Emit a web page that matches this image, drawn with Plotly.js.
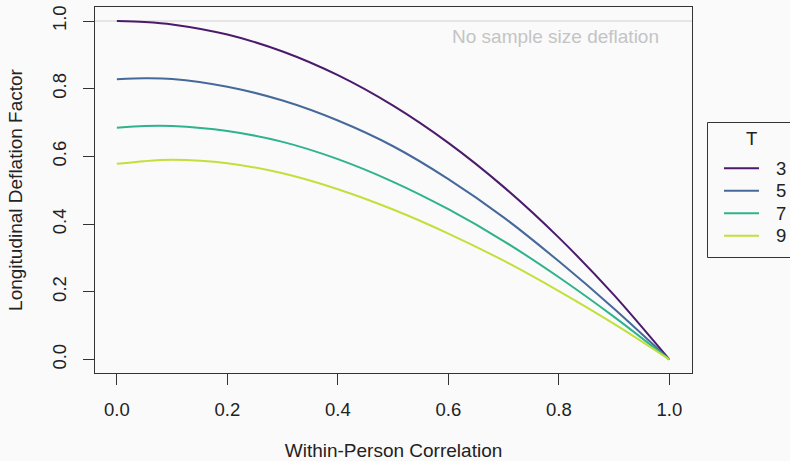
<!DOCTYPE html>
<html>
<head>
<meta charset="utf-8">
<script src="https://cdn.plot.ly/plotly-3.0.1.min.js"></script>
<style>
  html, body { margin: 0; padding: 0; background: #fafafa; }
  #chart { width: 790px; height: 461px; }
</style>
</head>
<body>
<div id="chart"></div>
<script>
// Within-person correlation values (x)
const correlation = [0, 0.05, 0.1, 0.2, 0.3, 0.4, 0.5, 0.6, 0.7, 0.8, 0.9, 1.0];
// Longitudinal deflation factor per number of time points T
const factorT3 = [1.000, 0.997, 0.990, 0.960, 0.910, 0.840, 0.750, 0.640, 0.510, 0.360, 0.190, 0];
const factorT5 = [0.828, 0.831, 0.829, 0.806, 0.765, 0.706, 0.630, 0.533, 0.420, 0.290, 0.150, 0];
const factorT7 = [0.685, 0.690, 0.690, 0.675, 0.643, 0.592, 0.525, 0.444, 0.350, 0.243, 0.126, 0];
const factorT9 = [0.578, 0.586, 0.590, 0.580, 0.550, 0.503, 0.443, 0.372, 0.292, 0.202, 0.105, 0];
const seriesNames = ["3", "5", "7", "9"];
const legendTitle = "T";
const xTicks = [0, 0.2, 0.4, 0.6, 0.8, 1.0];
const xTickLabels = ["0.0", "0.2", "0.4", "0.6", "0.8", "1.0"];
const yTicks = [0, 0.2, 0.4, 0.6, 0.8, 1.0];
const yTickLabels = ["0.0", "0.2", "0.4", "0.6", "0.8", "1.0"];
const referenceLevel = 1;
const referenceLabel = "No sample size deflation";

const colors = ["#4b1a6b", "#46699b", "#2fb38c", "#c2df3a"];
const seriesValues = [factorT3, factorT5, factorT7, factorT9];

const FONT = "Liberation Sans, Arial, sans-serif";
const W = 790, H = 461;
const M = { l: 95, r: 98, t: 7, b: 88 };
const plotW = W - M.l - M.r, plotH = H - M.t - M.b;
// pixel -> paper coordinate helpers (for the hand-drawn legend box)
const px = (x) => (x - M.l) / plotW;
const py = (y) => (H - M.b - y) / plotH;

const traces = seriesValues.map((vals, i) => ({
  x: correlation,
  y: vals,
  type: "scatter",
  mode: "lines",
  name: seriesNames[i],
  line: { color: colors[i], width: 2, shape: "spline", smoothing: 0.8 },
  hoverinfo: "x+y+name"
}));

// Legend drawn R-style: box, title, line keys and labels
const legendShapes = [{
  type: "rect", xref: "paper", yref: "paper",
  x0: px(707.5), x1: px(830), y0: py(122.5), y1: py(257.5),
  line: { color: "#333", width: 1 }, fillcolor: "rgba(0,0,0,0)"
}];
const legendAnnots = [{
  xref: "paper", yref: "paper", x: px(751), y: py(139),
  xanchor: "center", yanchor: "middle", showarrow: false,
  text: legendTitle, font: { family: FONT, size: 18.5, color: "#222" }
}];
seriesNames.forEach((nm, i) => {
  const yy = 168.3 + i * 22.5;
  legendShapes.push({
    type: "line", xref: "paper", yref: "paper",
    x0: px(724), x1: px(759), y0: py(yy), y1: py(yy),
    line: { color: colors[i], width: 2 }
  });
  legendAnnots.push({
    xref: "paper", yref: "paper", x: px(774), y: py(yy),
    xanchor: "left", yanchor: "middle", showarrow: false,
    text: nm, font: { family: FONT, size: 18.5, color: "#222" }
  });
});

const layout = {
  width: W,
  height: H,
  paper_bgcolor: "#fafafa",
  plot_bgcolor: "#fafafa",
  margin: { l: M.l, r: M.r, t: M.t, b: M.b, autoexpand: false },
  font: { family: FONT, size: 18.5, color: "#222" },
  showlegend: false,
  xaxis: {
    range: [-0.0396, 1.041],
    tickvals: xTicks,
    ticktext: xTickLabels,
    ticks: "outside",
    ticklen: 11,
    tickcolor: "#333",
    tickwidth: 1,
    showgrid: false,
    zeroline: false,
    showline: true,
    mirror: true,
    linecolor: "#333",
    linewidth: 1,
    ticklabelstandoff: 9,
    tickfont: { family: FONT, size: 18.5, color: "#222" },
    title: { text: "Within-Person Correlation", standoff: 28, font: { family: FONT, size: 19, color: "#222" } }
  },
  yaxis: {
    range: [-0.0399, 1.0414],
    tickvals: yTicks,
    ticktext: yTickLabels,
    tickangle: -90,
    ticks: "outside",
    ticklen: 11,
    tickcolor: "#333",
    tickwidth: 1,
    showgrid: false,
    zeroline: false,
    showline: true,
    mirror: true,
    linecolor: "#333",
    linewidth: 1,
    ticklabelstandoff: 10,
    tickfont: { family: FONT, size: 18.5, color: "#222" },
    title: { text: "Longitudinal Deflation Factor", standoff: 20, font: { family: FONT, size: 19, color: "#222" } }
  },
  shapes: [{
    type: "line", xref: "paper", yref: "y",
    x0: 0, x1: 1, y0: referenceLevel, y1: referenceLevel,
    line: { color: "#d0d0d0", width: 1.2 },
    layer: "below"
  }].concat(legendShapes),
  annotations: [{
    xref: "x", yref: "y", x: 0.985, y: 0.953,
    xanchor: "right", yanchor: "middle",
    text: referenceLabel, showarrow: false,
    font: { family: FONT, size: 19, color: "#c4c4c4" }
  }].concat(legendAnnots)
};

Plotly.newPlot("chart", traces, layout, { displayModeBar: false, staticPlot: true });
</script>
</body>
</html>
